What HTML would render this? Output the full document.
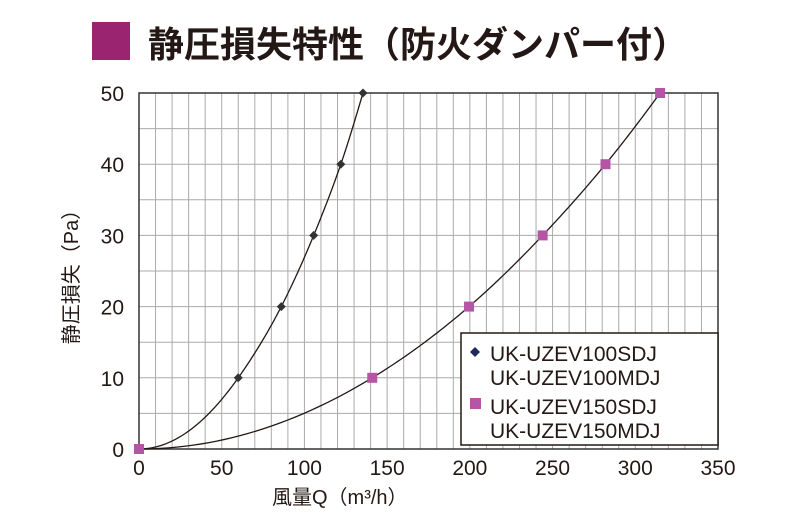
<!DOCTYPE html>
<html><head><meta charset="utf-8"><style>
body{margin:0;background:#fff;}
svg{display:block;font-family:"Liberation Sans","Noto Sans CJK JP",sans-serif;}
</style></head><body>
<svg id="c" width="812" height="532" viewBox="0 0 812 532">
<rect x="92" y="22" width="38" height="38" fill="#9b2470"/>
<text x="148" y="57" font-size="36" font-weight="bold" fill="#231815">静圧損失特性（防火ダンパー付）</text>
<g id="grid"></g>
<g id="axes"></g>
<g id="series"></g>
<g>
<rect x="461" y="333" width="257" height="112" fill="#fff" stroke="#231815" stroke-width="1.5"/>
<path d="M475 347 l5 5 l-5 5 l-5 -5z" fill="#1f2a5c"/>
<text x="490" y="361" font-size="21" fill="#231815">UK-UZEV100SDJ</text>
<text x="490" y="385" font-size="21" fill="#231815">UK-UZEV100MDJ</text>
<rect x="470" y="398" width="11" height="11" fill="#b455a5"/>
<text x="490" y="414" font-size="21" fill="#231815">UK-UZEV150SDJ</text>
<text x="490" y="438" font-size="21" fill="#231815">UK-UZEV150MDJ</text>
</g>
<text x="272" y="504" font-size="20" fill="#231815">風量Q（m³/h）</text>
<text transform="translate(78,272) rotate(-90)" text-anchor="middle" font-size="20" fill="#231815">静圧損失（Pa）</text>
</svg>
<script>
const xTicks=[0,50,100,150,200,250,300,350];
const yTicks=[0,10,20,30,40,50];
const s1x=[0,60,86,105.6,122,135.4];
const s1y=[0,10,20,30,40,50];
const s2x=[0,141,199.5,244,282,315];
const s2y=[0,10,20,30,40,50];
const X0=139,X1=718,Y0=449,Y1=93;
const sx=v=>X0+(X1-X0)*v/350, sy=v=>Y0-(Y0-Y1)*v/50;
const NS="http://www.w3.org/2000/svg";
function mk(t,a,p){const e=document.createElementNS(NS,t);for(const k in a)e.setAttribute(k,a[k]);p.appendChild(e);return e;}
const g=document.getElementById('grid'),ax=document.getElementById('axes'),se=document.getElementById('series');
for(let v=10;v<350;v+=10){const l=mk('line',{x1:sx(v),x2:sx(v),y1:Y1,y2:Y0,stroke:'#aaa','stroke-width':1},g);

}
for(let v=5;v<50;v+=5){const l=mk('line',{x1:X0,x2:X1,y1:sy(v),y2:sy(v),stroke:'#aaa','stroke-width':1},g);

}
const fr=mk('rect',{x:X0,y:Y1,width:X1-X0,height:Y0-Y1,fill:'none',stroke:'#333','stroke-width':1.5},ax);


xTicks.forEach(v=>{const t=mk('text',{x:sx(v),y:475,'text-anchor':'middle','font-size':21,fill:'#231815'},ax);t.textContent=v;

});
yTicks.forEach(v=>{const t=mk('text',{x:124,y:sy(v)+8,'text-anchor':'end','font-size':21,fill:'#231815'},ax);t.textContent=v;

});
// interpolate x as a smooth function of u=sqrt(y) (quadratic-law curve)
function smooth(xs,ys){
  const u=ys.map(v=>Math.sqrt(Math.max(v,0)));const n=xs.length;const m=[];
  for(let i=0;i<n;i++){
    if(i==0)m.push((xs[1]-xs[0])/(u[1]-u[0]));
    else if(i==n-1)m.push((xs[n-1]-xs[n-2])/(u[n-1]-u[n-2]));
    else m.push((xs[i+1]-xs[i-1])/(u[i+1]-u[i-1]));
  }
  let d='M'+sx(xs[0])+' '+sy(ys[0]);
  for(let i=0;i<n-1;i++){const h=u[i+1]-u[i];
    for(let k=1;k<=30;k++){const t=k/30,t2=t*t,t3=t2*t;
      const x=(2*t3-3*t2+1)*xs[i]+(t3-2*t2+t)*h*m[i]+(-2*t3+3*t2)*xs[i+1]+(t3-t2)*h*m[i+1];
      const uu=u[i]+h*t;d+=' L'+sx(x).toFixed(2)+' '+sy(uu*uu).toFixed(2);}
  }
  return d;}
const l1=mk('path',{d:smooth(s1x,s1y),fill:'none',stroke:'#231815','stroke-width':1.3},se);


const l2=mk('path',{d:smooth(s2x,s2y),fill:'none',stroke:'#231815','stroke-width':1.3},se);


s1x.forEach((v,i)=>{if(i==0)return;const x=sx(v),y=sy(s1y[i]);const m=mk('path',{d:`M${x} ${y-4.5} l4.5 4.5 l-4.5 4.5 l-4.5 -4.5z`,fill:'#333'},se);

});
s2x.forEach((v,i)=>{const x=sx(v),y=sy(s2y[i]);const m=mk('rect',{x:x-5,y:y-5,width:10,height:10,fill:'#b455a5'},se);

});
</script>
</body></html>
